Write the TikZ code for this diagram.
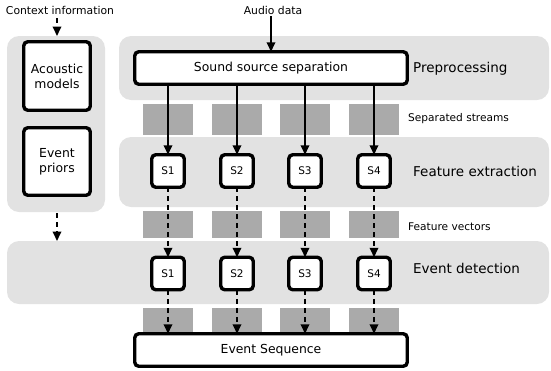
\documentclass[tikz,border=0pt]{standalone}
\usepackage{fontspec}
\setmainfont{DejaVu Sans}
\usetikzlibrary{arrows.meta}
\definecolor{bandgray}{HTML}{E2E2E2}
\definecolor{darkgray}{HTML}{AAAAAA}
\begin{document}
\begin{tikzpicture}[x=1pt,y=-1pt,
  band/.style={fill=bandgray, draw=none, rounded corners=12pt, inner sep=0pt, outer sep=0pt},
  databox/.style={fill=darkgray, draw=none, inner sep=0pt, outer sep=0pt, minimum width=50pt},
  wbox/.style={fill=white, draw=black, line width=3.4pt, rounded corners=4pt, inner sep=0pt, outer sep=0pt, align=center, font=\fontsize{12.4}{15}\selectfont},
  sbox/.style={wbox, minimum width=32.5pt, minimum height=32.5pt, font=\fontsize{10.5}{12}\selectfont},
  biglabel/.style={anchor=west, inner sep=0pt, font=\fontsize{13.5}{16}\selectfont},
  smalllabel/.style={anchor=west, inner sep=0pt, font=\fontsize{10.6}{12}\selectfont},
  toplabel/.style={inner sep=0pt, font=\fontsize{10.8}{12}\selectfont},
  arr/.style={line width=1.8pt, -{Triangle[length=9.5pt,width=8.5pt]}},
  darr/.style={arr, dash pattern=on 5pt off 4pt}
]
\useasboundingbox (0,0) rectangle (551,370);
% bands
\node[band, minimum width=98pt, minimum height=176pt] (left) at (56,124) {};
\node[band, minimum width=430pt, minimum height=64pt] (pre) at (334,68) {};
\node[band, minimum width=430pt, minimum height=70pt] (fe) at (334,172) {};
\node[band, minimum width=542pt, minimum height=63pt] (ed) at (278,272.5) {};
% dark data boxes
\foreach \i/\x in {1/168,2/237,3/305,4/374}{
  \node[databox, minimum height=31pt] (ss\i) at (\x,119.5) {};
  \node[databox, minimum height=27pt] (fv\i) at (\x,224.5) {};
  \node[databox, minimum height=26pt] (ev\i) at (\x,321) {};
}
% left boxes
\node[wbox, minimum width=66.5pt, minimum height=68.5pt] (acm) at (57,76) {Acoustic\\models};
\node[wbox, minimum width=66.5pt, minimum height=67.5pt] (pri) at (57,161.5) {Event\\priors};
% main boxes
\node[wbox, minimum width=272.5pt, minimum height=32.5pt] (sound) at (271,68) {Sound source separation};
\node[wbox, minimum width=272.5pt, minimum height=32.5pt] (seq) at (271,350) {Event Sequence};
\foreach \i/\x in {1/168,2/237,3/305,4/374}{
  \node[sbox] (f\i) at (\x,171) {S\i};
  \node[sbox] (d\i) at (\x,273.5) {S\i};
}
% labels
\node[toplabel] (ctx) at (60,10) {Context information};
\node[toplabel] (audio) at (273,10) {Audio data};
\node[biglabel] (lpre) at (413,69) {Preprocessing};
\node[smalllabel] (lss) at (408,119) {Separated streams};
\node[biglabel] (lfe) at (413,171) {Feature extraction};
\node[smalllabel] (lfv) at (408,227) {Feature vectors};
\node[biglabel] (led) at (413,268) {Event detection};
% connectors
\draw[darr] (ctx.south -| acm) ++(0,4) -- (acm.north |- left.north);
\draw[arr] (audio.south -| sound) ++(0,2) -- (sound.north);
\draw[darr] (left.south -| acm) ++(0,1) -- (acm.south |- ed.north);
\foreach \i in {1,2,3,4}{
  \draw[arr] (sound.south -| f\i) -- (f\i.north);
  \draw[darr] (f\i.south) -- (d\i.north);
  \draw[darr] (d\i.south) -- (seq.north -| d\i);
}
\end{tikzpicture}
\end{document}
